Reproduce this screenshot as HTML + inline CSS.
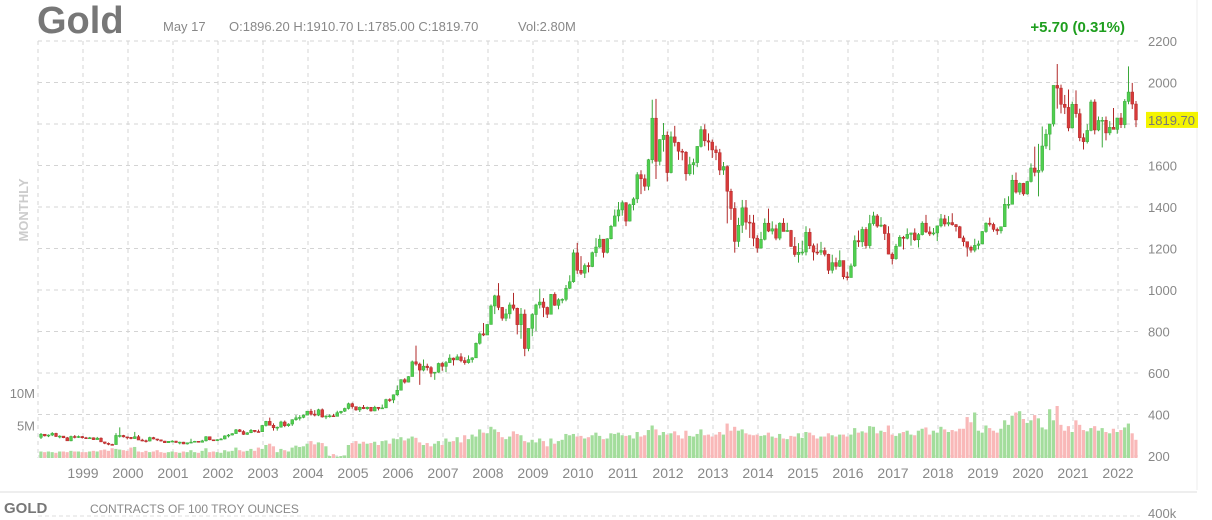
<!DOCTYPE html>
<html><head><meta charset="utf-8"><style>
html,body{margin:0;padding:0;background:#fff;width:1212px;height:520px;overflow:hidden}
svg{display:block;font-family:"Liberation Sans",sans-serif}
</style></head><body>
<svg id="c" width="1212" height="520">
<text x="37" y="33" font-size="38" font-weight="bold" fill="#777">Gold</text>
<text x="163" y="31" font-size="13" fill="#888">May 17 <tspan x="229">O:1896.20  H:1910.70  L:1785.00  C:1819.70</tspan><tspan x="518">Vol:2.80M</tspan></text>
<text x="1125" y="32" font-size="15" font-weight="bold" fill="#1e9e1e" text-anchor="end">+5.70 (0.31%)</text>
<text transform="translate(28,210) rotate(-90)" font-size="13" font-weight="bold" fill="#ccc" text-anchor="middle">MONTHLY</text>
<line x1="1197" y1="0" x2="1197" y2="490" stroke="#eee"/>
<line x1="0" y1="492" x2="1197" y2="492" stroke="#eee" stroke-width="2"/>
<text x="4" y="513" font-size="15" font-weight="bold" fill="#777">GOLD</text>
<text x="90" y="513" font-size="12" fill="#888">CONTRACTS OF 100 TROY OUNCES</text>
<line x1="38" y1="516" x2="1140" y2="516" stroke="#ddd" stroke-dasharray="4,3"/>
<text x="1148" y="518" font-size="13" fill="#888">400k</text>
<g id="grid"></g><g id="vol"></g><g id="cnd"></g><g id="ax"></g>
</svg>
<script>
const years=[1999,2000,2001,2002,2003,2004,2005,2006,2007,2008,2009,2010,2011,2012,2013,2014,2015,2016,2017,2018,2019,2020,2021,2022];
const priceTicks=[2200,2000,1800,1600,1400,1200,1000,800,600,400,200];
const volTicks=[5,10];
const closes=[305,297,301,309,294,296,288,273,294,292,294,288,
287,288,279,286,268,261,256,255,299,299,292,290,
284,293,277,274,272,289,282,278,272,264,271,272,
265,267,258,264,267,271,266,273,293,278,275,279,
282,297,301,308,326,318,304,312,324,318,317,347,
367,348,336,339,364,346,354,375,384,386,397,416,
402,397,423,388,393,394,391,409,416,429,452,438,
422,435,428,435,417,435,429,432,472,470,495,517,
568,556,583,654,643,614,633,626,599,604,646,632,
650,672,663,678,660,650,665,673,743,789,783,834,
923,972,916,864,885,928,912,833,884,718,815,882,
928,942,916,883,979,926,953,955,1008,1040,1179,1095,
1081,1118,1113,1180,1207,1245,1181,1247,1307,1357,1386,1421,
1332,1411,1439,1556,1536,1500,1628,1828,1620,1725,1746,1566,
1738,1711,1669,1664,1560,1604,1614,1692,1773,1719,1713,1675,
1662,1578,1595,1476,1393,1234,1312,1396,1327,1323,1250,1202,
1244,1322,1284,1295,1250,1322,1282,1287,1210,1171,1182,1183,
1278,1213,1183,1182,1190,1172,1095,1132,1114,1142,1064,1060,
1116,1238,1232,1292,1214,1320,1357,1308,1313,1272,1173,1151,
1211,1254,1249,1268,1275,1242,1267,1322,1280,1270,1275,1309,
1343,1318,1325,1315,1305,1251,1233,1206,1192,1215,1222,1282,
1322,1316,1292,1285,1305,1413,1413,1529,1472,1514,1463,1523,
1588,1567,1577,1694,1751,1800,1986,1973,1895,1880,1781,1895,
1850,1734,1715,1769,1906,1771,1817,1818,1757,1784,1774,1829,
1797,1909,1954,1896.2,1819.7];
const highs=[311,306,304,315,312,300,296,292,298,301,299,296,
292,292,290,292,290,265,265,259,310,338,302,293,
291,316,301,283,279,293,292,283,278,273,271,276,
273,269,268,265,283,273,270,278,296,293,279,281,
286,300,306,310,330,330,324,315,330,325,327,350,
369,385,357,342,370,371,358,377,397,397,400,417,
427,421,428,429,396,401,403,418,417,433,457,457,
431,438,446,438,434,442,431,448,476,478,497,540,
570,575,585,660,732,650,665,645,633,605,650,652,
658,690,675,690,695,676,685,676,747,796,841,835,
930,977,1033,918,909,940,986,915,913,906,814,888,
934,1006,961,920,981,989,960,960,1024,1071,1195,1227,
1163,1128,1133,1185,1250,1266,1209,1250,1314,1388,1424,1432,
1423,1416,1447,1568,1577,1557,1632,1917,1921,1727,1805,1764,
1764,1791,1714,1680,1669,1642,1633,1693,1790,1798,1755,1725,
1695,1680,1617,1600,1488,1423,1348,1434,1434,1362,1362,1264,
1280,1345,1392,1331,1315,1326,1346,1324,1290,1255,1226,1238,
1307,1297,1224,1224,1232,1205,1175,1170,1156,1191,1142,1088,
1128,1263,1287,1305,1303,1362,1377,1366,1351,1318,1307,1181,
1222,1264,1261,1297,1276,1297,1275,1331,1362,1306,1299,1310,
1366,1362,1356,1370,1318,1309,1262,1218,1214,1247,1238,1284,
1326,1349,1325,1301,1306,1442,1452,1555,1566,1518,1516,1526,
1610,1691,1704,1788,1775,1800,1986,2089,1990,1940,1966,1908,
1962,1874,1755,1799,1917,1919,1836,1834,1836,1814,1877,1830,
1853,1920,2078,1998,1910.7];
const lows=[282,294,291,296,292,285,286,273,271,285,287,284,
283,284,278,279,268,257,252,251,255,289,289,280,
281,283,277,271,265,270,280,272,270,264,264,267,
264,256,257,255,264,266,265,265,270,276,272,272,
277,280,289,299,307,315,302,302,310,314,315,317,
342,348,322,322,337,339,341,345,370,371,382,397,
395,391,392,385,378,385,389,392,401,412,424,428,
418,412,426,423,414,416,420,430,431,460,455,490,
516,549,554,584,635,543,608,612,580,567,601,611,
604,648,636,664,652,640,645,650,673,737,778,788,
833,884,903,852,850,862,901,786,765,681,705,777,
802,911,869,865,885,924,907,936,946,1005,1035,1078,
1072,1058,1085,1110,1160,1203,1156,1176,1244,1315,1330,1358,
1308,1330,1384,1419,1462,1478,1481,1610,1535,1600,1667,1523,
1562,1692,1627,1625,1527,1551,1556,1592,1687,1693,1672,1636,
1626,1554,1555,1321,1338,1180,1208,1275,1291,1251,1211,1180,
1202,1239,1279,1268,1240,1240,1282,1280,1208,1160,1132,1167,
1167,1198,1142,1169,1168,1162,1077,1080,1098,1111,1052,1046,
1061,1111,1208,1208,1200,1200,1310,1300,1303,1241,1172,1123,
1146,1209,1195,1244,1214,1236,1205,1263,1275,1260,1263,1236,
1302,1306,1307,1310,1282,1251,1211,1161,1180,1182,1196,1221,
1276,1306,1281,1266,1272,1304,1392,1412,1465,1459,1454,1459,
1518,1548,1451,1567,1680,1674,1788,1874,1851,1848,1765,1778,
1831,1717,1677,1706,1765,1750,1765,1687,1721,1746,1778,1753,
1781,1780,1895,1872,1785];
const volumes=[1.0,0.9,1.0,0.9,0.8,1.0,1.0,0.9,1.1,1.0,1.0,0.9,
0.9,1.0,1.1,1.0,1.2,1.3,1.1,1.5,1.4,1.3,1.2,1.1,
1.6,1.7,1.0,0.9,1.1,0.9,1.0,1.2,0.9,0.8,0.9,1.0,
0.9,0.8,1.0,0.9,1.2,0.9,0.8,1.1,1.5,0.9,1.0,0.9,
0.8,1.2,1.0,1.1,1.6,1.2,1.0,1.1,1.4,1.1,1.6,1.4,
2.0,2.2,1.8,0.9,1.4,1.2,1.0,1.6,1.9,1.7,1.8,2.2,
2.6,2.1,2.4,2.3,1.8,0.3,0.6,0.2,0.3,0.4,2.0,2.3,
2.6,2.2,2.5,2.2,2.3,2.5,2.0,2.6,2.7,2.2,3.0,2.9,
3.2,2.7,3.0,3.3,3.1,2.4,2.0,2.3,1.8,2.2,2.6,2.0,
3.0,2.5,2.6,3.2,2.4,3.5,2.9,3.6,3.3,4.4,3.9,3.8,
4.8,4.4,4.0,3.2,2.9,3.3,4.1,3.7,3.5,2.6,2.4,2.8,
2.4,3.0,2.6,1.8,3.0,2.2,2.6,2.8,3.7,3.5,3.7,3.3,
3.4,3.0,3.2,3.5,3.9,3.4,2.9,3.0,3.8,3.7,3.9,3.5,
3.4,3.5,3.0,4.0,3.3,3.5,4.3,5.0,4.4,3.5,4.0,3.6,
3.8,4.1,3.5,3.0,4.2,3.4,3.3,3.7,4.4,3.5,3.6,3.3,
3.6,4.0,3.6,5.3,4.2,4.8,4.2,4.4,3.8,3.6,3.5,3.6,
3.4,3.5,3.9,3.3,3.1,3.7,3.0,2.9,3.4,3.3,3.8,3.1,
4.0,3.9,3.5,3.0,3.3,3.3,3.8,3.5,3.3,3.6,3.6,3.3,
3.6,4.6,3.9,4.1,3.9,4.9,4.8,3.8,4.2,4.0,5.0,3.6,
3.4,3.8,4.0,4.2,3.6,3.5,4.2,4.5,4.7,3.6,4.2,3.9,
4.8,4.4,4.0,4.3,4.1,4.5,4.5,6.3,5.5,7.0,4.2,3.9,
5.0,4.6,4.2,3.9,4.5,5.8,5.1,6.5,7.0,7.2,6.0,5.4,
5.8,6.6,6.1,4.7,4.4,7.5,5.8,8.0,5.1,4.2,4.9,4.0,
5.8,5.1,4.3,4.1,4.6,4.9,4.2,4.6,4.0,3.8,4.5,4.0,
4.3,4.7,5.3,3.8,2.8];
const firstOpen=290;

const NS="http://www.w3.org/2000/svg";
const X0=38,X1=1140,MW=3.75,XB=41;
const xAt=i=>XB+i*MW;
const yP=v=>41+(2200-v)*0.2075;
const yV=m=>458-m*6.5;
function mk(tag,attrs,parent){const e=document.createElementNS(NS,tag);for(const k in attrs)e.setAttribute(k,attrs[k]);parent.appendChild(e);return e;}
const grid=document.getElementById('grid'),vol=document.getElementById('vol'),cnd=document.getElementById('cnd'),ax=document.getElementById('ax');

priceTicks.forEach(v=>{
  const l=mk('line',{x1:X0,x2:X1,y1:yP(v),y2:yP(v),stroke:'#d4d4d4','stroke-dasharray':'4,4'},grid);
  
  
  if(v===1800)return;
  const t=mk('text',{x:1148,y:yP(v)+5,'font-size':13,fill:'#888'},ax);t.textContent=v;
  
  
});
years.forEach((yr,k)=>{
  const x=xAt((k+1)*12)-3;
  const l=mk('line',{x1:x,x2:x,y1:41,y2:458,stroke:'#d4d4d4','stroke-dasharray':'4,4'},grid);
  
  
  const t=mk('text',{x:x,y:478,'font-size':14,fill:'#888','text-anchor':'middle'},ax);t.textContent=yr;
  
  
});
{const l=mk('line',{x1:X0,x2:X0,y1:41,y2:458,stroke:'#d4d4d4','stroke-dasharray':'4,4'},grid);

}
volTicks.forEach(m=>{
  const t=mk('text',{x:35,y:yV(m)+5,'font-size':13,fill:'#888','text-anchor':'end'},ax);t.textContent=m+'M';
  
  
});
closes.forEach((c,i)=>{
  const o=i===0?firstOpen:closes[i-1];
  const up=c>=o;
  const x=xAt(i);
  const vb=mk('rect',{x:x-1.7,y:yV(volumes[i]),width:3.2,height:volumes[i]*6.5,fill:up?'#a3dd9c':'#f9b8b8'},vol);
  
  
  const col=up?'#3aa83a':'#b02828';
  const w=mk('line',{x1:x,x2:x,y1:yP(highs[i]),y2:yP(lows[i]),stroke:col,'stroke-width':1},cnd);
  
  
  const top=yP(Math.max(o,c)),h=Math.max(1,Math.abs(yP(o)-yP(c)));
  const b=mk('rect',{x:x-1.4,y:top,width:2.8,height:h,fill:up?'#4fcf4f':'#d83a3a',stroke:col,'stroke-width':0.5},cnd);
  
  
});
const last=closes[closes.length-1];
const hl=mk('rect',{x:1146,y:yP(last)-8,width:52,height:16,fill:'#f4f400'},ax);


const lt=mk('text',{x:1148,y:yP(last)+5,'font-size':13,fill:'#777'},ax);lt.textContent=last.toFixed(2);


</script>
</body></html>
